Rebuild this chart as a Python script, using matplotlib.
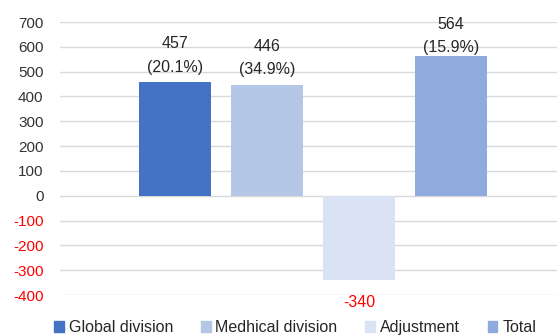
import matplotlib.pyplot as plt
from matplotlib.patches import Patch

categories = ['Global division', 'Medhical division', 'Adjustment', 'Total']
values = [457, 446, -340, 564]
growth = ['20.1%', '34.9%', None, '15.9%']
colors = ['#4472C4', '#B4C7E7', '#DAE3F3', '#8FAADC']
yticks = [700, 600, 500, 400, 300, 200, 100, 0, -100, -200, -300, -400]

# label offset above/below each bar, in points
label_pad = [5.5, 5.5, -11, 0.5]

plt.rcParams['font.family'] = ['Liberation Sans', 'DejaVu Sans']

fig = plt.figure(figsize=(5.57, 3.36), dpi=100)
ax = fig.add_axes([0.108, 0.122, 0.892, 0.8125])

x = list(range(len(categories)))
ax.bar(x, values, width=0.78, color=colors, zorder=2)

for xi, v, g, pad in zip(x, values, growth, label_pad):
    if v >= 0:
        ax.annotate(f'{v}\n({g})', (xi, v), xytext=(0, pad), textcoords='offset points',
                    ha='center', va='bottom', fontsize=11.5, color='#262626',
                    linespacing=1.7)
    else:
        ax.annotate(f'{v}', (xi, v), xytext=(0, pad), textcoords='offset points',
                    ha='center', va='top', fontsize=11.5, color='#FF0000')

ax.set_xlim(-1.25, 4.15)
ax.set_ylim(-400, 700)
ax.set_yticks(yticks)
ax.set_yticklabels([str(t) for t in yticks], fontsize=11)
for lbl, t in zip(ax.get_yticklabels(), yticks):
    lbl.set_color('#FF0000' if t < 0 else '#333333')
ax.tick_params(axis='y', length=0, pad=12)
ax.set_xticks([])
ax.grid(axis='y', color='#D9D9D9', linewidth=1, zorder=0)
for s in ax.spines.values():
    s.set_visible(False)

handles = [Patch(color=c) for c in colors]
fig.legend(handles, categories, loc='lower center', bbox_to_anchor=(0.53, -0.04),
           ncol=4, frameon=False, fontsize=11.5, handlelength=0.6, handleheight=0.6,
           handletextpad=0.3, columnspacing=1.75, labelcolor='#262626')

fig.savefig('out.png', dpi=100)
